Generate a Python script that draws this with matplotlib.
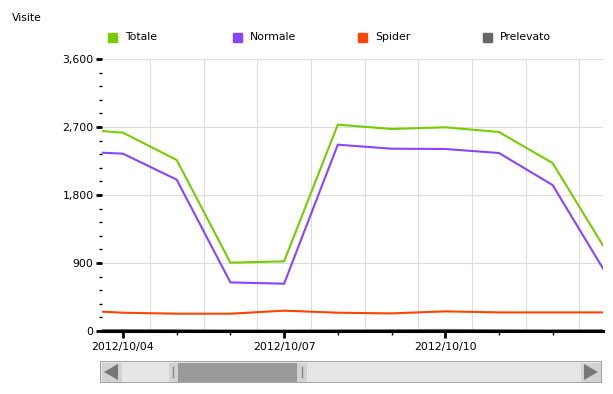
import matplotlib
matplotlib.use("Agg")
import matplotlib.pyplot as plt
import matplotlib.dates as mdates
from matplotlib.patches import Rectangle, Polygon
import numpy as np
import datetime as dt

dates = ["2012-10-03", "2012-10-04", "2012-10-05", "2012-10-06", "2012-10-07",
         "2012-10-08", "2012-10-09", "2012-10-10", "2012-10-11", "2012-10-12", "2012-10-13"]
totale = [2680, 2625, 2263, 904, 922, 2731, 2674, 2696, 2634, 2223, 1060]
normale = [2380, 2347, 2003, 643, 626, 2466, 2413, 2409, 2356, 1932, 755]
spider = [278, 242, 229, 229, 269, 242, 233, 260, 246, 246, 246]
prelevato = [12, 12, 10, 6, 6, 8, 10, 14, 10, 8, 10]

series_names = ["Totale", "Normale", "Spider", "Prelevato"]
colors = ["#77CC00", "#8844FF", "#FF4400", "#666666"]

x = [dt.datetime.strptime(d, "%Y-%m-%d") for d in dates]

W, H = 613, 394
fig = plt.figure(figsize=(W / 100, H / 100), dpi=100)
fs = 7.8

L, R, T, B = 102, 603, 59, 331
ax = fig.add_axes([L / W, 1 - B / H, (R - L) / W, (B - T) / H])

for vals, c in zip([prelevato, spider, normale, totale], [colors[3], colors[2], colors[1], colors[0]]):
    ax.plot(x, vals, color=c, lw=1.5, solid_joinstyle="miter", clip_on=True)

d0 = dt.datetime(2012, 10, 4)
px_day = 53.7
ax.set_xlim(d0 - dt.timedelta(days=21 / px_day), d0 + dt.timedelta(days=(603 - 123) / px_day))
ax.set_ylim(0, 3600)

# y ticks
ax.set_yticks([0, 900, 1800, 2700, 3600])
ax.set_yticklabels(["0", "900", "1,800", "2,700", "3,600"], fontsize=fs)
ax.set_yticks(np.arange(0, 3601, 180), minor=True)
ax.tick_params(axis="y", which="major", length=4, width=2, direction="out", pad=2, color="black")
ax.tick_params(axis="y", which="minor", length=2, width=1, direction="out", color="black")

# x ticks
ax.xaxis.set_major_locator(mdates.DayLocator(bymonthday=[4, 7, 10]))
ax.xaxis.set_major_formatter(mdates.DateFormatter("%Y/%m/%d"))
ax.xaxis.set_minor_locator(mdates.DayLocator())
ax.tick_params(axis="x", which="major", length=5, width=2, direction="out", pad=3, labelsize=fs)
ax.tick_params(axis="x", which="minor", length=3, width=1, direction="out")

# gridlines
for yv in [900, 1800, 2700, 3600]:
    ax.axhline(yv, color="#dddddd", lw=0.8, zorder=0)
for k in range(-1, 10):
    ax.axvline(d0 + dt.timedelta(days=k + 0.5), color="#dddddd", lw=0.8, zorder=0)

for s in ["top", "right", "left"]:
    ax.spines[s].set_visible(False)
ax.spines["bottom"].set_linewidth(2.2)
ax.spines["bottom"].set_color("black")

# title label
fig.text(12 / W, 1 - 18 / H, "Visite", fontsize=fs, va="center", ha="left")

# legend
lx = [108, 233, 358, 483]
for name, c, xx in zip(series_names, colors, lx):
    fig.patches.append(Rectangle((xx / W, 1 - 42 / H), 9 / W, 9 / H, transform=fig.transFigure,
                                 color=c, figure=fig))
    fig.text((xx + 17) / W, 1 - 37.5 / H, name, fontsize=fs, va="center", ha="left")

# scrollbar
sx0, sx1, sy0, sy1 = 100, 602, 361, 383
sb = fig.add_axes([sx0 / W, 1 - sy1 / H, (sx1 - sx0) / W, (sy1 - sy0) / H])
sb.set_xlim(sx0, sx1)
sb.set_ylim(sy1, sy0)
sb.axis("off")
sb.add_patch(Rectangle((sx0, sy0), sx1 - sx0, sy1 - sy0, facecolor="#e6e6e6", edgecolor="#999999", lw=1.2))
sb.add_patch(Rectangle((101.5, 362.5), 20, 19, facecolor="#d2d2d2", edgecolor="none"))
sb.add_patch(Polygon([[104, 372], [118, 364], [118, 380]], closed=True, facecolor="#777777", edgecolor="none"))
sb.add_patch(Rectangle((580.5, 362.5), 20, 19, facecolor="#d2d2d2", edgecolor="none"))
sb.add_patch(Polygon([[598, 372], [584, 364], [584, 380]], closed=True, facecolor="#777777", edgecolor="none"))
sb.add_patch(Rectangle((169, 362.5), 9, 19, facecolor="#d2d2d2", edgecolor="none"))
sb.add_patch(Rectangle((178, 362.5), 119, 19, facecolor="#999999", edgecolor="none"))
sb.add_patch(Rectangle((297, 362.5), 9.5, 19, facecolor="#d2d2d2", edgecolor="none"))
sb.plot([173, 173], [367, 377], color="#888888", lw=1)
sb.plot([302, 302], [367, 377], color="#888888", lw=1)

fig.savefig("out.png", dpi=100)
